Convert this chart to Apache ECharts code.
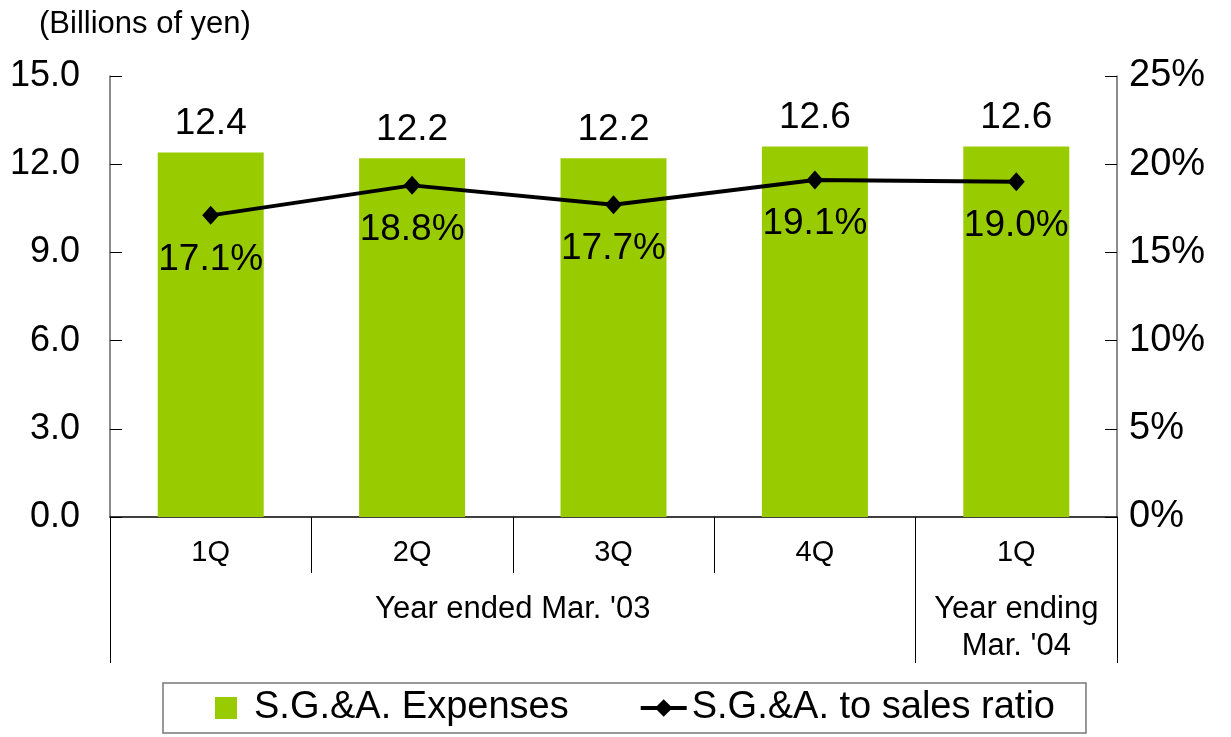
<!DOCTYPE html>
<html>
<head>
<meta charset="utf-8">
<script src="https://cdn.jsdelivr.net/npm/echarts@6/dist/echarts.min.js"></script>
<style>
  html, body { margin: 0; padding: 0; background: #fff; }
  #chart { width: 1231px; height: 737px; }
</style>
</head>
<body>
<div id="chart"></div>
<script>
// 数据
const quarters = ['1Q', '2Q', '3Q', '4Q', '1Q']
const sgaExpenses = [12.4, 12.2, 12.2, 12.6, 12.6]
const sgaRatio = [17.1, 18.8, 17.7, 19.1, 19.0]
// 年度分组：位置(按季度个数计)和文字
const yearPos = [2, 4.5]
const yearLabels = ["Year ended Mar. '03", "Year ending\nMar. '04"]
const yearBounds = [0, 4, 5]

const FONT = '"Liberation Sans", Arial, sans-serif'

const chart = echarts.init(document.getElementById('chart'))

const option = {
    animation: false,
    textStyle: { fontFamily: FONT, color: '#000' },
    title: {
        text: '(Billions of yen)',
        left: 34,
        top: 4,
        textStyle: { fontFamily: FONT, fontSize: 31, fontWeight: 'normal', color: '#000' }
    },
    grid: { left: 110, right: 114, top: 76, bottom: 220 },
    legend: {
        left: 163,
        top: 683,
        padding: [6, 31, 6, 52],
        itemGap: 70,
        itemWidth: 46,
        itemHeight: 22,
        borderColor: '#777',
        borderWidth: 1.5,
        textStyle: { fontFamily: FONT, fontSize: 38, color: '#000' },
        data: [
            { name: 'S.G.&A. Expenses', icon: 'path://M0,0H10V10H0Z' },
            { name: 'S.G.&A. to sales ratio', lineStyle: { width: 4, color: '#000' } }
        ]
    },
    xAxis: [
        {
            type: 'category',
            data: quarters,
            axisLine: { lineStyle: { color: '#000', width: 1.5 } },
            axisTick: { show: true, interval: 0, length: 56, lineStyle: { color: '#000', width: 1 } },
            axisLabel: { fontFamily: FONT, fontSize: 29, color: '#000', margin: 21 }
        },
        {
            // 年度分组轴
            type: 'value',
            position: 'bottom',
            min: 0,
            max: 5,
            axisLine: { show: false },
            splitLine: { show: false },
            axisTick: {
                show: true,
                customValues: yearBounds,
                length: 146,
                lineStyle: { color: '#000', width: 1 }
            },
            axisLabel: {
                customValues: yearPos,
                formatter: v => yearLabels[yearPos.indexOf(v)],
                fontFamily: FONT,
                fontSize: 31,
                lineHeight: 37,
                color: '#000',
                margin: 74,
                verticalAlign: 'top'
            }
        }
    ],
    yAxis: [
        {
            type: 'value',
            min: 0,
            max: 15,
            interval: 3,
            axisLine: { show: true, lineStyle: { color: '#666', width: 1.5 } },
            axisTick: { show: true, inside: true, length: 12, lineStyle: { color: '#000' } },
            splitLine: { show: false },
            axisLabel: {
                fontFamily: FONT,
                fontSize: 36,
                color: '#000',
                margin: 30,
                formatter: v => v.toFixed(1)
            }
        },
        {
            type: 'value',
            min: 0,
            max: 25,
            interval: 5,
            axisLine: { show: true, lineStyle: { color: '#666', width: 1.5 } },
            axisTick: { show: true, inside: true, length: 12, lineStyle: { color: '#000' } },
            splitLine: { show: false },
            axisLabel: {
                fontFamily: FONT,
                fontSize: 38,
                color: '#000',
                margin: 12,
                formatter: '{value}%'
            }
        }
    ],
    series: [
        {
            name: 'S.G.&A. Expenses',
            type: 'bar',
            data: sgaExpenses,
            barWidth: 106,
            itemStyle: { color: '#99CC00' },
            label: {
                show: true,
                position: 'top',
                distance: 10,
                fontFamily: FONT,
                fontSize: 37,
                color: '#000',
                formatter: p => p.value.toFixed(1)
            }
        },
        {
            name: 'S.G.&A. to sales ratio',
            type: 'line',
            yAxisIndex: 1,
            data: sgaRatio,
            symbol: 'diamond',
            symbolSize: [17, 19],
            itemStyle: { color: '#000' },
            lineStyle: { color: '#000', width: 4 },
            label: {
                show: true,
                position: 'bottom',
                distance: 16,
                fontFamily: FONT,
                fontSize: 37,
                color: '#000',
                formatter: p => p.value.toFixed(1) + '%'
            }
        }
    ]
}

chart.setOption(option)
</script>
</body>
</html>
